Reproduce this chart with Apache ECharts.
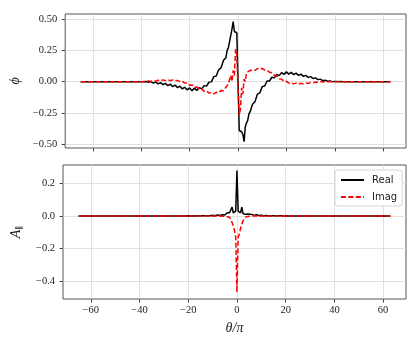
<!DOCTYPE html>
<html>
<head>
<meta charset="utf-8">
<script src="https://cdn.jsdelivr.net/npm/echarts@6/dist/echarts.min.js"></script>
<style>
  html, body { margin: 0; padding: 0; background: #fff; }
  #chart { width: 420px; height: 343px; }
</style>
</head>
<body>
<div id="chart"></div>
<script>
// theta / pi sample points
var theta = [-65, -50, -45,
  -40, -39, -38, -37, -36, -35, -34, -33, -32, -31, -30, -29, -28, -27, -26, -25, -24, -23, -22, -21,
  -20, -19, -18, -17, -16, -15, -14, -13, -12, -11, -10, -9, -8, -7, -6,
  -5, -4.5, -4, -3.5, -3, -2.5, -2, -1.5, -1, -0.5, 0, 0.5, 1, 1.5, 2, 2.5, 3, 3.5, 4, 4.5, 5,
  6, 7, 8, 9, 10, 11, 12, 13, 14, 15, 16, 17, 18, 19, 20, 21, 22, 23, 24, 25, 26, 27, 28, 29, 30,
  31, 32, 33, 34, 35, 36, 37, 38, 39, 40,
  45, 50, 63];

var phiRe = [0, 0, 0,
  0, -0.002, 0.001, -0.006, 0.000, -0.012, -0.004, -0.018, -0.008, -0.024, -0.014, -0.032, -0.020, -0.040, -0.028, -0.048, -0.036, -0.058, -0.044, -0.066,
  -0.050, -0.072, -0.052, -0.070, -0.048, -0.058, -0.032, -0.036, -0.004, -0.002, 0.040, 0.045, 0.095, 0.110, 0.170,
  0.190, 0.25, 0.27, 0.32, 0.33, 0.42, 0.48, 0.40, 0.40, 0.39, 0.0, -0.39, -0.40, -0.40, -0.42, -0.48, -0.36, -0.33, -0.31, -0.26, -0.24,
  -0.18, -0.16, -0.10, -0.09, -0.04, -0.035, 0.005, 0.005, 0.035, 0.030, 0.058, 0.048, 0.072, 0.058, 0.078, 0.060, 0.074, 0.056, 0.068, 0.050, 0.060, 0.042, 0.050, 0.034, 0.040,
  0.025, 0.030, 0.016, 0.020, 0.008, 0.012, 0.003, 0.005, 0.000, 0.002,
  0, 0, 0];

var phiIm = [0, 0, 0,
  0, 0.002, 0.000, 0.005, 0.002, 0.008, 0.004, 0.011, 0.006, 0.014, 0.008, 0.015, 0.008, 0.014, 0.006, 0.010, 0.000, 0.002, -0.012, -0.010,
  -0.028, -0.026, -0.045, -0.042, -0.062, -0.058, -0.078, -0.072, -0.092, -0.085, -0.098, -0.085, -0.090, -0.070, -0.072,
  -0.045, -0.05, -0.02, -0.03, 0.05, 0.0, 0.09, 0.05, 0.26, 0.22, -0.05, -0.27, -0.22, -0.05, -0.10, 0.02, 0.00, 0.07, 0.06, 0.085, 0.08,
  0.095, 0.090, 0.105, 0.098, 0.105, 0.092, 0.090, 0.075, 0.070, 0.050, 0.045, 0.022, 0.020, 0.000, 0.002, -0.012, -0.008, -0.018, -0.012, -0.020, -0.013, -0.018, -0.010, -0.014, -0.006,
  -0.010, -0.003, -0.006, 0.000, -0.003, 0.000, -0.001, 0, 0, 0,
  0, 0, 0];

var aRe = [0, 0, 0,
  0, 0, 0, 0, 0, 0, 0, 0, 0, 0, 0, 0, 0, 0, 0, 0, 0, 0, 0, 0,
  0.001, 0, 0.001, 0, 0.001, 0.001, 0.002, 0.001, 0.002, 0.002, 0.004, 0.002, 0.006, 0.003, 0.008,
  0.006, 0.012, 0.02, 0.01, 0.02, 0.015, 0.055, 0.02, 0.03, 0.03, 0.28, 0.03, 0.03, 0.02, 0.055, 0.015, 0.02, 0.01, 0.02, 0.012, 0.006,
  0.01, 0.004, 0.008, 0.003, 0.005, 0.002, 0.003, 0.001, 0.002, 0.001, 0.002, 0.001, 0.001, 0, 0.001, 0, 0, 0, 0, 0, 0, 0, 0, 0, 0,
  0, 0, 0, 0, 0, 0, 0, 0, 0, 0,
  0, 0, 0];

var aIm = [0, 0, 0,
  0, 0, 0, 0, 0, 0, 0, 0, 0, 0, 0, 0, 0, 0, 0, 0, 0, 0, 0, 0,
  0, 0, 0, 0, 0, 0, 0, 0, 0, 0, 0, 0, 0, 0, -0.001,
  -0.002, -0.003, -0.004, -0.006, -0.008, -0.02, -0.04, -0.06, -0.09, -0.13, -0.47, -0.13, -0.11, -0.075, -0.05, -0.03, -0.015, -0.008, -0.004, -0.003, -0.002,
  -0.001, 0, 0, 0, 0, 0, 0, 0, 0, 0, 0, 0, 0, 0, 0, 0, 0, 0, 0, 0, 0, 0, 0, 0, 0,
  0, 0, 0, 0, 0, 0, 0, 0, 0, 0,
  0, 0, 0];

var xTicks = [-60, -40, -20, 0, 20, 40, 60];
var phiTicks = [-0.5, -0.25, 0, 0.25, 0.5];
var aTicks = [-0.4, -0.2, 0, 0.2];

function pairs(ys) {
  return theta.map(function(t, i) { return [t, ys[i]]; });
}
function minus(s) { return s.replace('-', '\u2212'); }

var serif = '"Liberation Serif", "DejaVu Serif", serif';
var gridColor = '#d9d9d9';
var labelStyle = { color: '#222', fontFamily: serif, fontSize: 10.5 };

function xAxis(idx, showLabels) {
  return {
    type: 'value',
    gridIndex: idx,
    position: 'bottom',
    min: -71.4,
    max: 69.4,
    axisLine: { show: false, onZero: false },
    axisTick: { show: true, inside: false, length: 3.5, customValues: xTicks, lineStyle: { color: '#444' } },
    axisLabel: Object.assign({ show: showLabels, margin: 6, customValues: xTicks,
      formatter: function(v) { return minus(String(v)); } }, labelStyle),
    splitLine: { show: true, lineStyle: { color: gridColor, width: 0.8 } },
    name: showLabels ? '\u03b8/\u03c0' : '',
    nameLocation: 'middle',
    nameGap: 22,
    nameTextStyle: { color: '#222', fontFamily: serif, fontSize: 14, fontStyle: 'italic' }
  };
}

function yAxis(idx, min, max, ticks, digits, name) {
  return {
    type: 'value',
    gridIndex: idx,
    position: 'left',
    min: min,
    max: max,
    axisLine: { show: false, onZero: false },
    axisTick: { show: true, inside: false, length: 3.5, customValues: ticks, lineStyle: { color: '#444' } },
    axisLabel: Object.assign({ margin: 8, customValues: ticks,
      formatter: function(v) { return minus(v.toFixed(digits)); } }, labelStyle),
    splitLine: { show: true, lineStyle: { color: gridColor, width: 0.8 } },
    name: name,
    nameLocation: 'middle',
    nameGap: 40,
    nameTextStyle: {
      color: '#222', fontFamily: serif, fontSize: 14, fontStyle: 'italic',
      rich: {
        a: { fontFamily: serif, fontSize: 14, fontStyle: 'italic', color: '#222' },
        s: { fontFamily: '"DejaVu Sans", sans-serif', fontSize: 8, color: '#222', verticalAlign: 'bottom', padding: [6, 0, 0, 0] }
      }
    }
  };
}

var chart = echarts.init(document.getElementById('chart'), null, { renderer: 'canvas' });
chart.setOption({
  animation: false,
  backgroundColor: '#fff',
  grid: [
    { left: 63, right: 14, top: 14, height: 134, show: true, borderColor: '#555', borderWidth: 1, backgroundColor: 'transparent' },
    { left: 63, right: 14, top: 165, height: 134, show: true, borderColor: '#555', borderWidth: 1, backgroundColor: 'transparent' }
  ],
  xAxis: [xAxis(0, false), xAxis(1, true)],
  yAxis: [
    yAxis(0, -0.53, 0.54, phiTicks, 2, '\u03d5'),
    yAxis(1, -0.511, 0.314, aTicks, 1, '{a|A}{s|\u2225}')
  ],
  legend: {
    data: ['Real', 'Imag'],
    orient: 'vertical',
    left: 335,
    top: 170,
    padding: [5, 5, 4, 5],
    itemWidth: 23,
    itemHeight: 10,
    itemGap: 7,
    itemStyle: { opacity: 0 },
    backgroundColor: '#fff',
    borderColor: '#d6d6d6',
    borderWidth: 1,
    borderRadius: 3,
    textStyle: { color: '#222', fontFamily: '"DejaVu Sans", sans-serif', fontSize: 10, padding: [0, 0, 0, 3] }
  },
  series: [
    {
      name: 'phiRe', type: 'line', xAxisIndex: 0, yAxisIndex: 0, data: pairs(phiRe),
      symbol: 'none', lineStyle: { color: '#000', width: 1.5 }, itemStyle: { color: '#000' }
    },
    {
      name: 'phiIm', type: 'line', xAxisIndex: 0, yAxisIndex: 0, data: pairs(phiIm),
      symbol: 'none', lineStyle: { color: '#ff0000', width: 1.5, type: [5, 2.4] }, itemStyle: { color: '#ff0000' }
    },
    {
      name: 'Real', type: 'line', xAxisIndex: 1, yAxisIndex: 1, data: pairs(aRe),
      symbol: 'none', lineStyle: { color: '#000', width: 1.5 }, itemStyle: { color: '#000' }
    },
    {
      name: 'Imag', type: 'line', xAxisIndex: 1, yAxisIndex: 1, data: pairs(aIm),
      symbol: 'none', lineStyle: { color: '#ff0000', width: 1.5, type: [5, 2.4] }, itemStyle: { color: '#ff0000' }
    }
  ]
});
window.addEventListener('resize', function() { chart.resize(); });
</script>
</body>
</html>
